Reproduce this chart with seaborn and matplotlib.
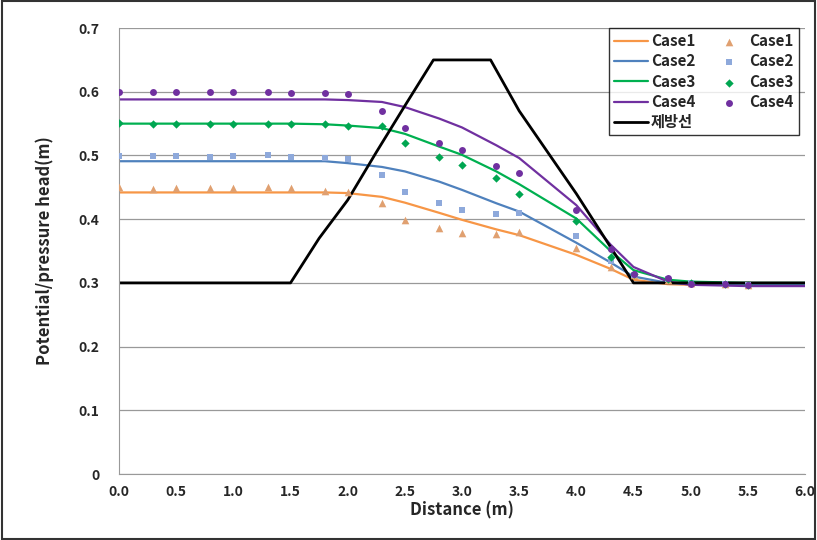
import numpy as np
import pandas as pd
import matplotlib
matplotlib.use("Agg")
import matplotlib.pyplot as plt
import seaborn as sns

# simulated curves (lines)
line_x = [0.0, 0.5, 1.0, 1.5, 1.8, 2.0, 2.3, 2.5, 2.8, 3.0, 3.3, 3.5, 4.0, 4.3, 4.5, 4.8, 5.0, 5.5, 6.0]
case1_line = [0.442, 0.442, 0.442, 0.442, 0.442, 0.441, 0.435, 0.426, 0.410, 0.399, 0.384, 0.375, 0.344, 0.322, 0.305, 0.298, 0.297, 0.297, 0.297]
case2_line = [0.491, 0.491, 0.491, 0.491, 0.491, 0.488, 0.482, 0.475, 0.459, 0.446, 0.425, 0.412, 0.363, 0.332, 0.310, 0.300, 0.298, 0.298, 0.298]
case3_line = [0.550, 0.550, 0.550, 0.550, 0.549, 0.547, 0.543, 0.534, 0.514, 0.501, 0.475, 0.455, 0.401, 0.350, 0.320, 0.305, 0.302, 0.300, 0.300]
case4_line = [0.588, 0.588, 0.588, 0.588, 0.588, 0.587, 0.584, 0.576, 0.558, 0.544, 0.516, 0.496, 0.422, 0.360, 0.325, 0.302, 0.297, 0.295, 0.295]

# measured points (markers)
pt_x = [0.0, 0.3, 0.5, 0.8, 1.0, 1.3, 1.5, 1.8, 2.0, 2.3, 2.5, 2.8, 3.0, 3.3, 3.5, 4.0, 4.3, 4.5, 4.8, 5.0, 5.3, 5.5]
case1_pts = [0.451, 0.447, 0.449, 0.449, 0.449, 0.450, 0.449, 0.445, 0.442, 0.426, 0.398, 0.386, 0.379, 0.377, 0.380, 0.355, 0.325, 0.312, 0.305, 0.300, 0.299, 0.296]
case2_pts = [0.499, 0.499, 0.499, 0.498, 0.499, 0.500, 0.498, 0.496, 0.494, 0.470, 0.442, 0.425, 0.414, 0.408, 0.409, 0.374, 0.335, 0.313, 0.306, 0.300, 0.299, 0.296]
case3_pts = [0.551, 0.550, 0.550, 0.549, 0.550, 0.549, 0.549, 0.549, 0.546, 0.547, 0.519, 0.497, 0.485, 0.464, 0.440, 0.397, 0.341, 0.314, 0.306, 0.300, 0.299, 0.296]
case4_pts = [0.600, 0.599, 0.599, 0.599, 0.599, 0.599, 0.598, 0.598, 0.596, 0.570, 0.543, 0.520, 0.508, 0.483, 0.473, 0.415, 0.353, 0.314, 0.307, 0.299, 0.299, 0.296]

# levee profile
dam_x = [0.0, 1.5, 1.75, 2.0, 2.25, 2.5, 2.75, 3.25, 3.5, 4.0, 4.5, 6.0]
dam_y = [0.3, 0.3, 0.37, 0.43, 0.505, 0.578, 0.65, 0.65, 0.57, 0.44, 0.3, 0.3]

cases = ["Case1", "Case2", "Case3", "Case4"]
line_colors = ["#F79646", "#4F81BD", "#00B050", "#7030A0"]
pt_colors = ["#E0A070", "#8EA9DB", "#00A651", "#7030A0"]
markers = ["^", "s", "D", "o"]
sizes = [30, 18, 18, 25]

sns.set_style("white")
plt.rcParams['font.family'] = ['Noto Sans CJK KR', 'DejaVu Sans']
plt.rcParams['font.weight'] = 'bold'

fig = plt.figure(figsize=(8.17, 5.4), dpi=100)
ax = fig.add_axes([0.1457, 0.1222, 0.8396, 0.8258])

lines_df = pd.DataFrame({"x": line_x, "Case1": case1_line, "Case2": case2_line,
                         "Case3": case3_line, "Case4": case4_line})
pts_df = pd.DataFrame({"x": pt_x, "Case1": case1_pts, "Case2": case2_pts,
                       "Case3": case3_pts, "Case4": case4_pts})

line_handles = []
pt_handles = []
for c, lc in zip(cases, line_colors):
    sns.lineplot(data=lines_df, x="x", y=c, color=lc, linewidth=1.6, ax=ax, label=c)
    line_handles.append(ax.lines[-1])
for c, pc, m, s in zip(cases, pt_colors, markers, sizes):
    sns.scatterplot(data=pts_df, x="x", y=c, color=pc, marker=m, s=s, linewidth=0,
                    ax=ax, label=c, zorder=3)
    pt_handles.append(ax.collections[-1])
sns.lineplot(x=dam_x, y=dam_y, color="black", linewidth=2, ax=ax, label="제방선")
dam_handle = ax.lines[-1]

ax.set_xlim(0, 6.0)
ax.set_ylim(0, 0.7)
ax.set_xticks(np.arange(0, 6.01, 0.5))
ax.set_xticklabels([f"{v:.1f}" for v in np.arange(0, 6.01, 0.5)])
ax.set_yticks(np.arange(0, 0.71, 0.1))
ax.set_yticklabels(["0"] + [f"{v:.1f}" for v in np.arange(0.1, 0.71, 0.1)])
ax.tick_params(axis="x", direction="in", length=4, color="#888888", labelsize=10, pad=8)
ax.tick_params(axis="y", direction="out", length=4, color="#888888", labelsize=10, pad=10)
for lab in ax.get_xticklabels() + ax.get_yticklabels():
    lab.set_fontweight("bold")
ax.yaxis.grid(True, color="#999999", linewidth=0.9)
ax.set_axisbelow(True)
for side in ["top", "right"]:
    ax.spines[side].set_visible(False)
for side in ["left", "bottom"]:
    ax.spines[side].set_color("#999999")
ax.set_xlabel("Distance (m)", fontsize=12, fontweight="bold", labelpad=2)
ax.set_ylabel("Potential/pressure head(m)", fontsize=12, fontweight="bold", labelpad=18)

handles = line_handles + [dam_handle] + pt_handles
labels = cases + ["제방선"] + cases
leg = ax.legend(handles, labels, ncol=2, loc="upper right", bbox_to_anchor=(1.002, 1.018),
                frameon=True, fancybox=False, edgecolor="black",
                prop={"weight": "bold", "size": 11}, handlelength=2.2,
                columnspacing=1.1, labelspacing=0.28, borderpad=0.35, handletextpad=0.2)
leg.get_frame().set_linewidth(1.0)

fig.patches.append(plt.Rectangle((0.002, 0.002), 0.996, 0.996, transform=fig.transFigure,
                                 fill=False, edgecolor="#333333", linewidth=1.5))

fig.savefig("out.png", dpi=100)
